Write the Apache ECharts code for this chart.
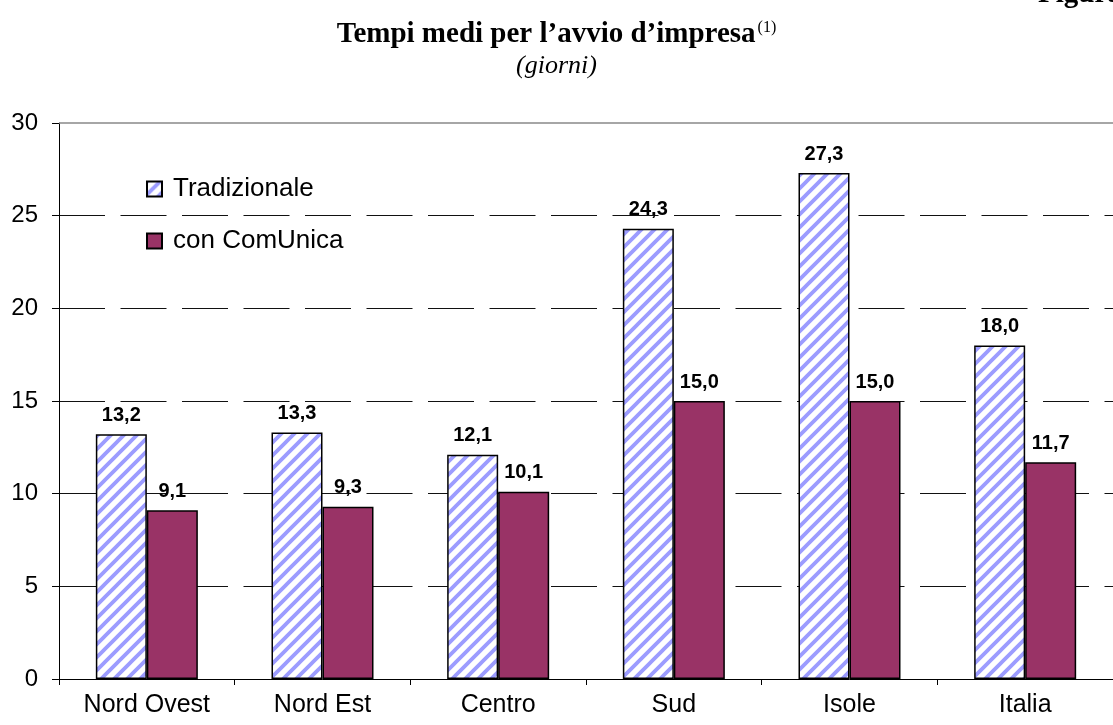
<!DOCTYPE html>
<html>
<head>
<meta charset="utf-8">
<title>Tempi medi per l'avvio d'impresa</title>
<script src="https://cdn.jsdelivr.net/npm/echarts@6/dist/echarts.min.js"></script>
<style>
  html, body { margin: 0; padding: 0; background: #fff; }
  #chart { width: 1113px; height: 725px; }
</style>
</head>
<body>
<div id="chart"></div>
<script>
// dati
const categories = ['Nord Ovest', 'Nord Est', 'Centro', 'Sud', 'Isole', 'Italia'];
const tradizionale = [13.2, 13.3, 12.1, 24.3, 27.3, 18.0];
const conComUnica = [9.1, 9.3, 10.1, 15.0, 15.0, 11.7];
const yMin = 0, yMax = 30, yStep = 5;

// tratteggio diagonale per le barre "Tradizionale"
const makeHatch = () => {
    const s = 13;
    const c = document.createElement('canvas');
    c.width = s; c.height = s;
    const ctx = c.getContext('2d');
    ctx.fillStyle = '#ffffff';
    ctx.fillRect(0, 0, s, s);
    ctx.strokeStyle = '#9c9cff';
    ctx.lineWidth = 3.8;
    ctx.beginPath();
    ctx.moveTo(0, s); ctx.lineTo(s, 0);
    ctx.moveTo(-s / 2, s / 2); ctx.lineTo(s / 2, -s / 2);
    ctx.moveTo(s / 2, s * 1.5); ctx.lineTo(s * 1.5, s / 2);
    ctx.stroke();
    return c;
};

const fmt = (p) => p.value.toFixed(1).replace('.', ',');

const labelStyle = {
    show: true,
    position: 'top',
    distance: 9,
    formatter: fmt,
    fontFamily: 'Liberation Sans',
    fontWeight: 'bold',
    fontSize: 20,
    color: '#000'
};

const myChart = echarts.init(document.getElementById('chart'));

const option = {
    animation: false,
    backgroundColor: '#fff',
    title: {
        text: '{t|Tempi medi per l\u2019avvio d\u2019impresa}{s|(1)}',
        subtext: '(giorni)',
        left: 'center',
        top: 15,
        itemGap: 4,
        textStyle: {
            rich: {
                t: { fontFamily: 'Liberation Serif', fontWeight: 'bold', fontSize: 29, color: '#000' },
                s: { fontFamily: 'Liberation Serif', fontWeight: 'normal', fontSize: 16, color: '#000', verticalAlign: 'top', padding: [0, 0, 6, 2] }
            }
        },
        subtextStyle: {
            fontFamily: 'Liberation Serif',
            fontStyle: 'italic',
            fontSize: 26,
            color: '#000'
        }
    },
    graphic: [{
        type: 'text',
        left: 1038,
        top: -20,
        style: {
            text: 'Figura',
            font: 'bold 29px "Liberation Serif"',
            fill: '#000'
        }
    }],
    legend: {
        orient: 'vertical',
        left: 141,
        top: 171,
        icon: 'rect',
        itemWidth: 15,
        itemHeight: 15,
        itemGap: 26,
        textStyle: {
            fontFamily: 'Liberation Sans',
            fontSize: 26,
            color: '#000',
            padding: [0, 0, 0, 6]
        },
        data: ['Tradizionale', 'con ComUnica']
    },
    grid: {
        left: 59,
        top: 123,
        width: 1059,
        height: 556
    },
    xAxis: {
        type: 'category',
        data: categories,
        axisLine: { lineStyle: { color: '#000', width: 1 } },
        axisTick: { show: true, length: 6, lineStyle: { color: '#000' } },
        axisLabel: {
            margin: 14,
            fontFamily: 'Liberation Sans',
            fontSize: 25,
            color: '#000'
        }
    },
    yAxis: {
        type: 'value',
        min: yMin,
        max: yMax,
        interval: yStep,
        axisLine: { show: true, lineStyle: { color: '#000', width: 1 } },
        axisTick: { show: true, length: 7, lineStyle: { color: '#000' } },
        axisLabel: {
            margin: 21,
            fontFamily: 'Liberation Sans',
            fontSize: 24,
            color: '#000'
        },
        splitLine: {
            show: true,
            showMinLine: false,
            showMaxLine: false,
            lineStyle: { color: '#111', width: 1, type: [46, 15.5], dashOffset: 0 }
        }
    },
    series: [
        {
            name: 'Tradizionale',
            type: 'bar',
            data: tradizionale,
            barWidth: 51,
            barGap: '0%',
            itemStyle: {
                color: { image: makeHatch(), repeat: 'repeat' },
                borderColor: '#000',
                borderWidth: 1.5
            },
            label: labelStyle,
            markLine: {
                silent: true,
                symbol: 'none',
                label: { show: false },
                lineStyle: { color: '#888', width: 1.5, type: 'solid' },
                data: [{ yAxis: yMax }]
            }
        },
        {
            name: 'con ComUnica',
            type: 'bar',
            data: conComUnica,
            barWidth: 51,
            barGap: '0%',
            itemStyle: {
                color: '#993366',
                borderColor: '#000',
                borderWidth: 1.5
            },
            label: labelStyle
        }
    ]
};

myChart.setOption(option);
</script>
</body>
</html>
